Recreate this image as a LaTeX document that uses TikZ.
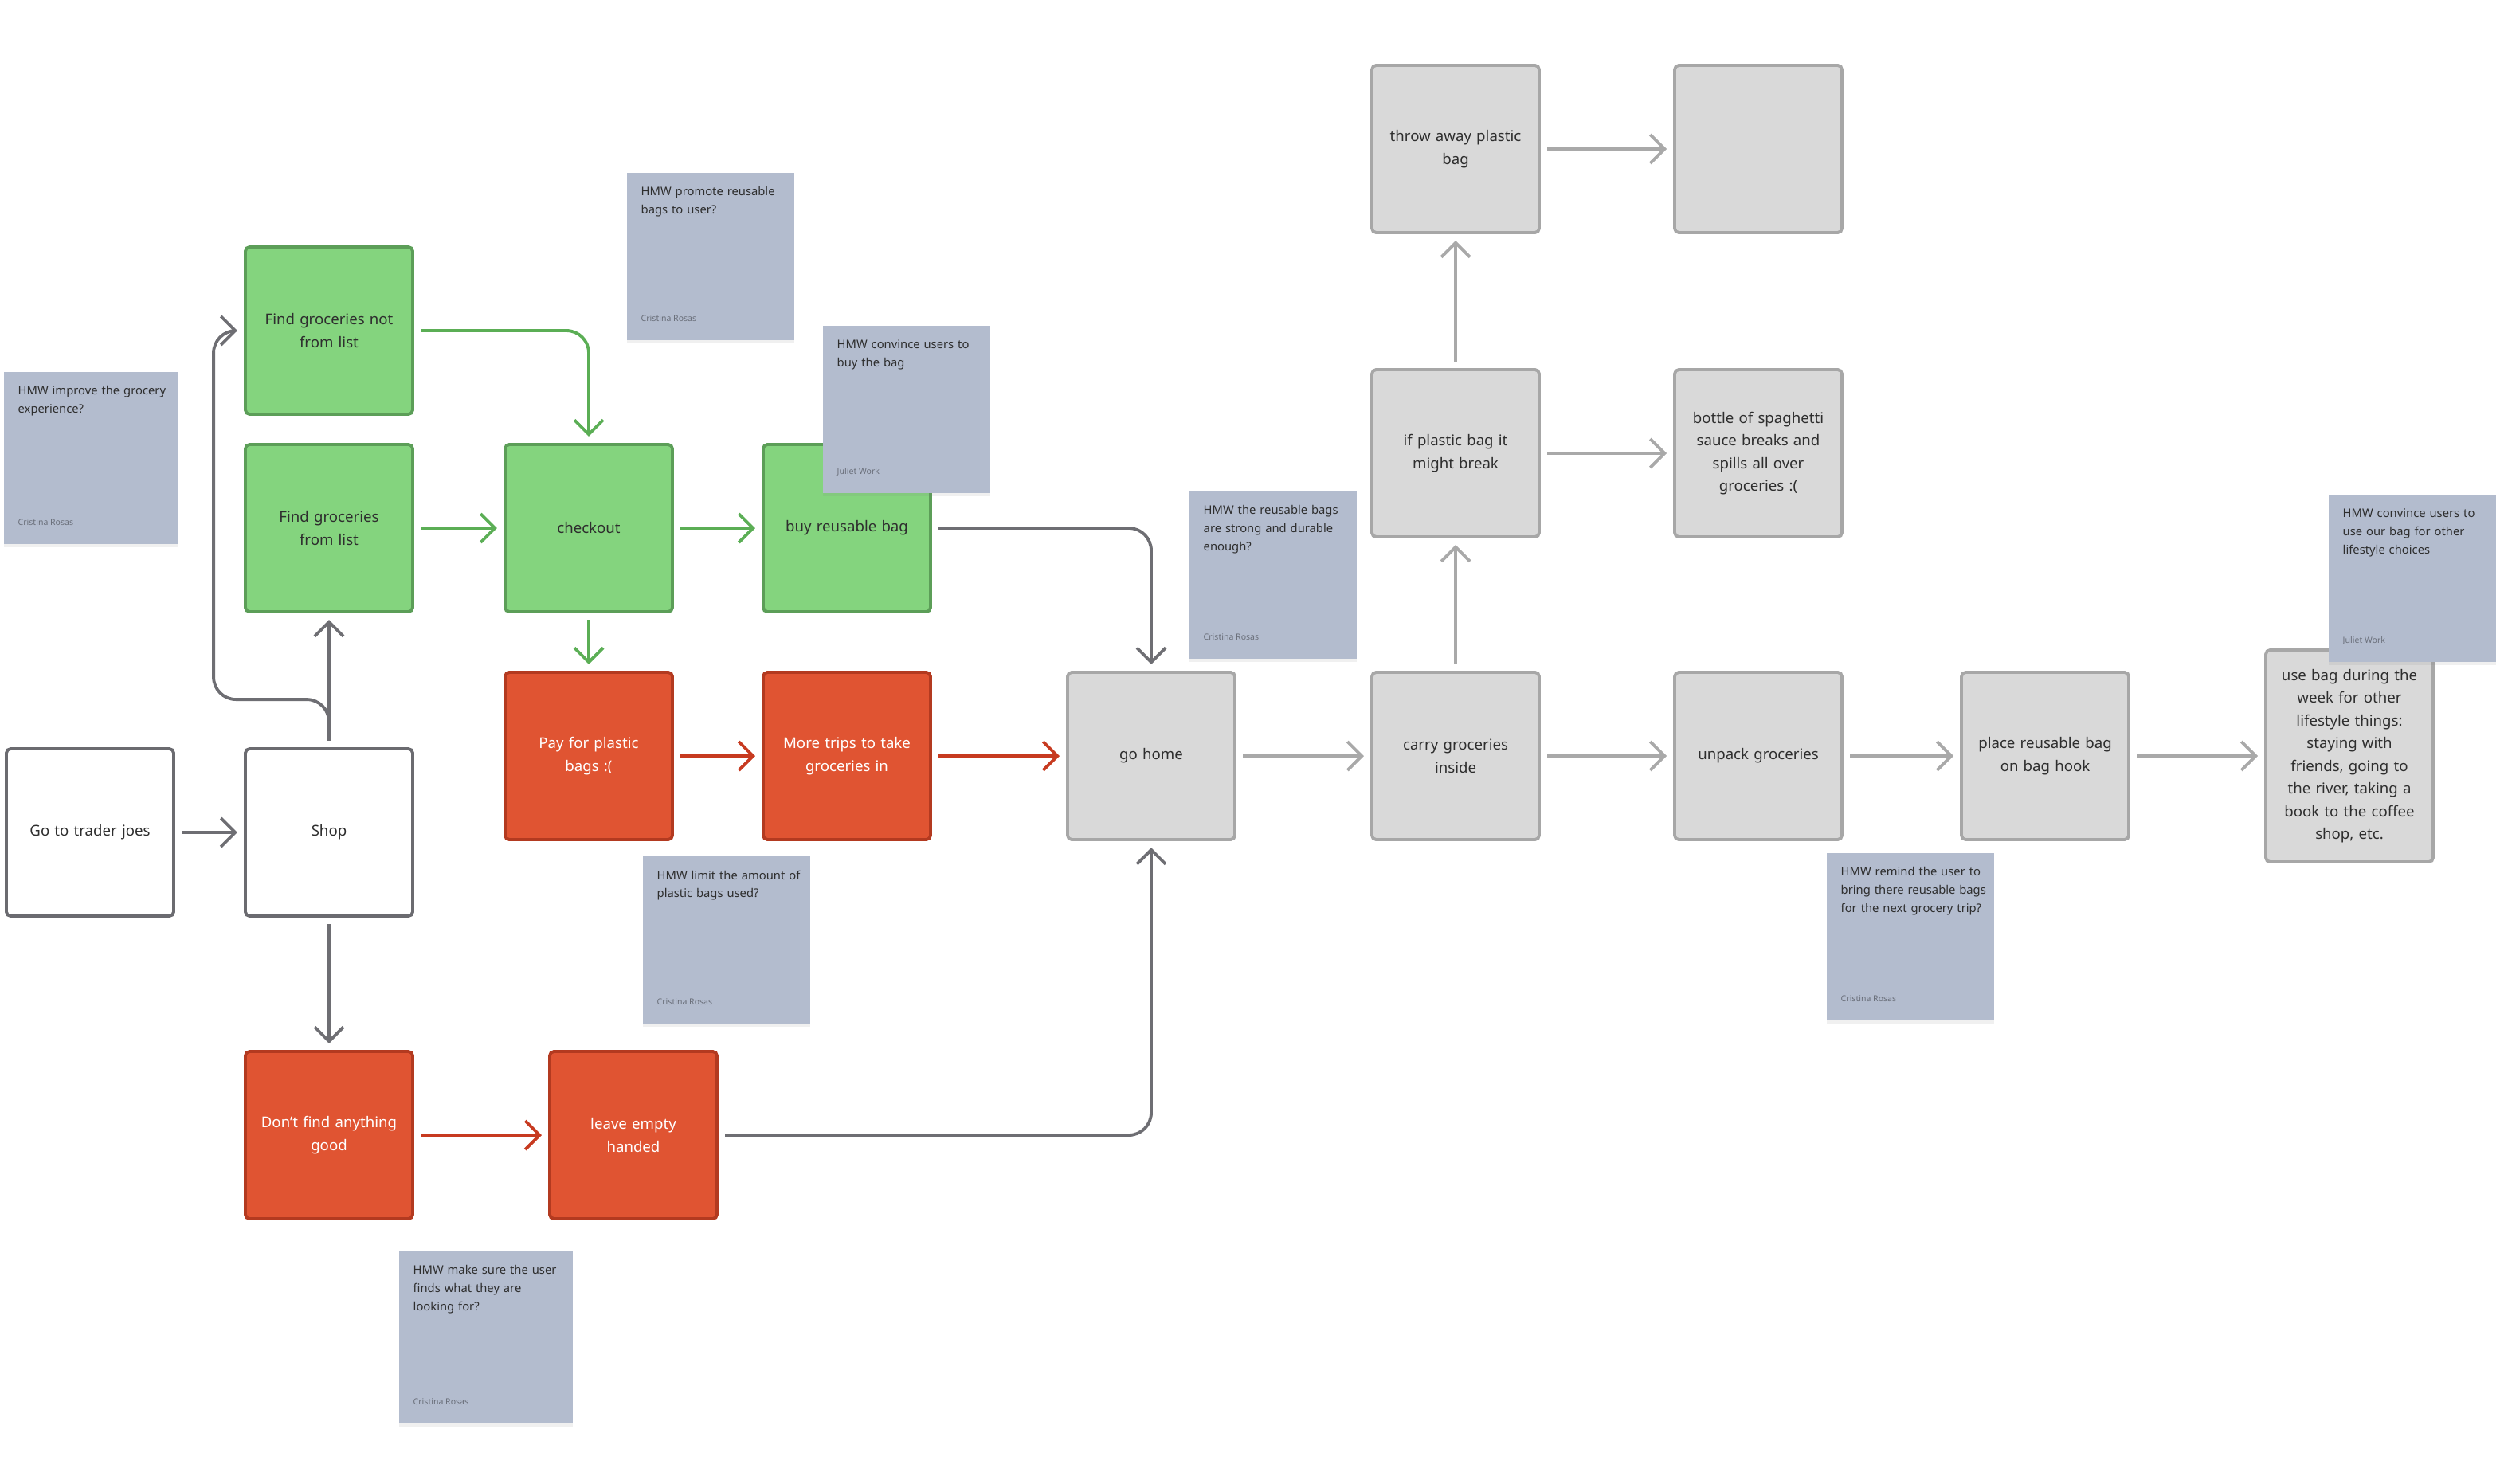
\documentclass[tikz,border=0pt]{standalone}
\usepackage{fontspec}
\setmainfont{Noto Sans}
\usetikzlibrary{arrows.meta,shadows}

\definecolor{txt}{HTML}{2E2E2E}
\definecolor{bytxt}{HTML}{6A6F7A}
\definecolor{goodfill}{HTML}{84D47E}
\definecolor{goodline}{HTML}{5C9E58}
\definecolor{goodarrow}{HTML}{5BAE55}
\definecolor{badfill}{HTML}{E05432}
\definecolor{badline}{HTML}{B33A20}
\definecolor{badarrow}{HTML}{C73A20}
\definecolor{greyfill}{HTML}{D9D9D9}
\definecolor{greyline}{HTML}{A7A7A7}
\definecolor{lightarrow}{HTML}{A9A9A9}
\definecolor{plainline}{HTML}{6B6B70}
\definecolor{darkarrow}{HTML}{6E6E73}
\definecolor{notefill}{HTML}{B3BCCE}

\newcommand{\boxfont}{\fontsize{5.3}{8.1}\selectfont}
\newcommand{\hmwfont}{\fontsize{4.2}{6.5}\selectfont\hyphenpenalty=10000}
\newcommand{\byfont}{\fontsize{3}{4}\selectfont}

\tikzset{
  box/.style={draw, rounded corners=1.5pt, line width=1.1pt, minimum width=2.1cm,
    minimum height=2.1cm, text width=1.9cm, align=center, font=\boxfont, inner sep=0pt},
  plainbox/.style={box, fill=white, draw=plainline, text=txt},
  goodbox/.style={box, fill=goodfill, draw=goodline, text=txt},
  badbox/.style={box, fill=badfill, draw=badline, text=white},
  greybox/.style={box, fill=greyfill, draw=greyline, text=txt},
  note/.style={fill=notefill, minimum width=2.1cm, minimum height=2.1cm, anchor=north west,
    inner sep=0pt, drop shadow={shadow xshift=0pt, shadow yshift=-1.2pt, opacity=0.12}},
  hmwtext/.style={anchor=north west, inner sep=0pt, text width=2.0cm, align=left,
    font=\hmwfont, text=txt},
  hmwby/.style={anchor=base west, inner sep=0pt, font=\byfont, text=bytxt},
  flow/.style={-{Straight Barb[length=1.8mm, width=3.6mm]}, line width=1.1pt,
    shorten <=2.3pt, shorten >=2.3pt, rounded corners=8pt},
  darkflow/.style={flow, draw=darkarrow},
  lightflow/.style={flow, draw=lightarrow},
  goodflow/.style={flow, draw=goodarrow},
  badflow/.style={flow, draw=badarrow}
}

% name, top left corner, question, author
\newcommand{\hmwnote}[5][]{%
  \node[note,#1] (#2) at (#3) {};
  \node[hmwtext] at ([shift={(0.18,-0.18)}]#2.north west) {#4};
  \node[hmwby] at ([shift={(0.18,0.24)}]#2.south west) {#5};}

\begin{document}
\begin{tikzpicture}
    \useasboundingbox (0,0) rectangle (31.38,-18.62);

    \node[plainbox] (go) at (1.13,-10.45) {Go to trader joes};
    \node[plainbox] (shop) at (4.13,-10.45) {Shop};
    \node[goodbox] (fgn) at (4.13,-4.15) {Find groceries not\\from list};
    \node[goodbox] (fgl) at (4.13,-6.63) {Find groceries\\from list};
    \node[goodbox] (checkout) at (7.39,-6.63) {checkout};
    \node[goodbox] (buy) at (10.63,-6.63) {buy reusable bag};
    \node[badbox] (pay) at (7.39,-9.49) {Pay for plastic\\bags :(};
    \node[badbox] (trips) at (10.63,-9.49) {More trips to take\\groceries in};
    \node[badbox] (nogood) at (4.13,-14.25) {Don't find anything\\good};
    \node[badbox] (leave) at (7.95,-14.25) {leave empty\\handed};
    \node[greybox] (home) at (14.45,-9.49) {go home};
    \node[greybox] (carry) at (18.27,-9.49) {carry groceries\\inside};
    \node[greybox] (unpack) at (22.07,-9.49) {unpack groceries};
    \node[greybox] (hook) at (25.67,-9.49) {place reusable bag\\on bag hook};
    \node[greybox, minimum height=2.66cm] (usebag) at (29.49,-9.49) {use bag during the\\week for other\\lifestyle things:\\staying with\\friends, going to\\the river, taking a\\book to the coffee\\shop, etc.};
    \node[greybox] (ifbag) at (18.27,-5.69) {if plastic bag it\\might break};
    \node[greybox] (sauce) at (22.07,-5.69) {bottle of spaghetti\\sauce breaks and\\spills all over\\groceries :(};
    \node[greybox] (throw) at (18.27,-1.87) {throw away plastic\\bag};
    \node[greybox] (blank) at (22.07,-1.87) {};

    \draw[darkflow] (go) -- (shop);
    \draw[darkflow] (shop) -- (fgl);
    \draw[darkflow] (shop.north) -- ++(0,0.6) -| ([xshift=-0.38cm]fgn.west) -- (fgn.west);
    \draw[darkflow] (shop) -- (nogood);
    \draw[goodflow] (fgn.east) -| (checkout.north);
    \draw[goodflow] (fgl) -- (checkout);
    \draw[goodflow] (checkout) -- (buy);
    \draw[goodflow] (checkout) -- (pay);
    \draw[badflow] (pay) -- (trips);
    \draw[badflow] (trips) -- (home);
    \draw[badflow] (nogood) -- (leave);
    \draw[darkflow] (buy.east) -| (home.north);
    \draw[darkflow] (leave.east) -| (home.south);
    \draw[lightflow] (home) -- (carry);
    \draw[lightflow] (carry) -- (ifbag);
    \draw[lightflow] (ifbag) -- (throw);
    \draw[lightflow] (throw) -- (blank);
    \draw[lightflow] (ifbag) -- (sauce);
    \draw[lightflow] (carry) -- (unpack);
    \draw[lightflow] (unpack) -- (hook);
    \draw[lightflow] (hook) -- (usebag);

    \hmwnote[minimum width=2.18cm, minimum height=2.16cm]{improve}{0.04,-4.66}{HMW improve the grocery\\experience?}{Cristina Rosas}
    \hmwnote{promote}{7.86,-2.16}{HMW promote reusable\\bags to user?}{Cristina Rosas}
    \hmwnote{convince}{10.32,-4.08}{HMW convince users to\\buy the bag}{Juliet Work}
    \hmwnote{durable}{14.92,-6.16}{HMW the reusable bags\\are strong and durable\\enough?}{Cristina Rosas}
    \hmwnote{limit}{8.06,-10.74}{HMW limit the amount of\\plastic bags used?}{Cristina Rosas}
    \hmwnote[minimum width=2.18cm, minimum height=2.16cm]{finds}{5.0,-15.7}{HMW make sure the user\\finds what they are\\looking for?}{Cristina Rosas}
    \hmwnote{remind}{22.92,-10.7}{HMW remind the user to\\bring there reusable bags\\for the next grocery trip?}{Cristina Rosas}
    \hmwnote{lifestyle}{29.22,-6.2}{HMW convince users to\\use our bag for other\\lifestyle choices}{Juliet Work}
\end{tikzpicture}
\end{document}
